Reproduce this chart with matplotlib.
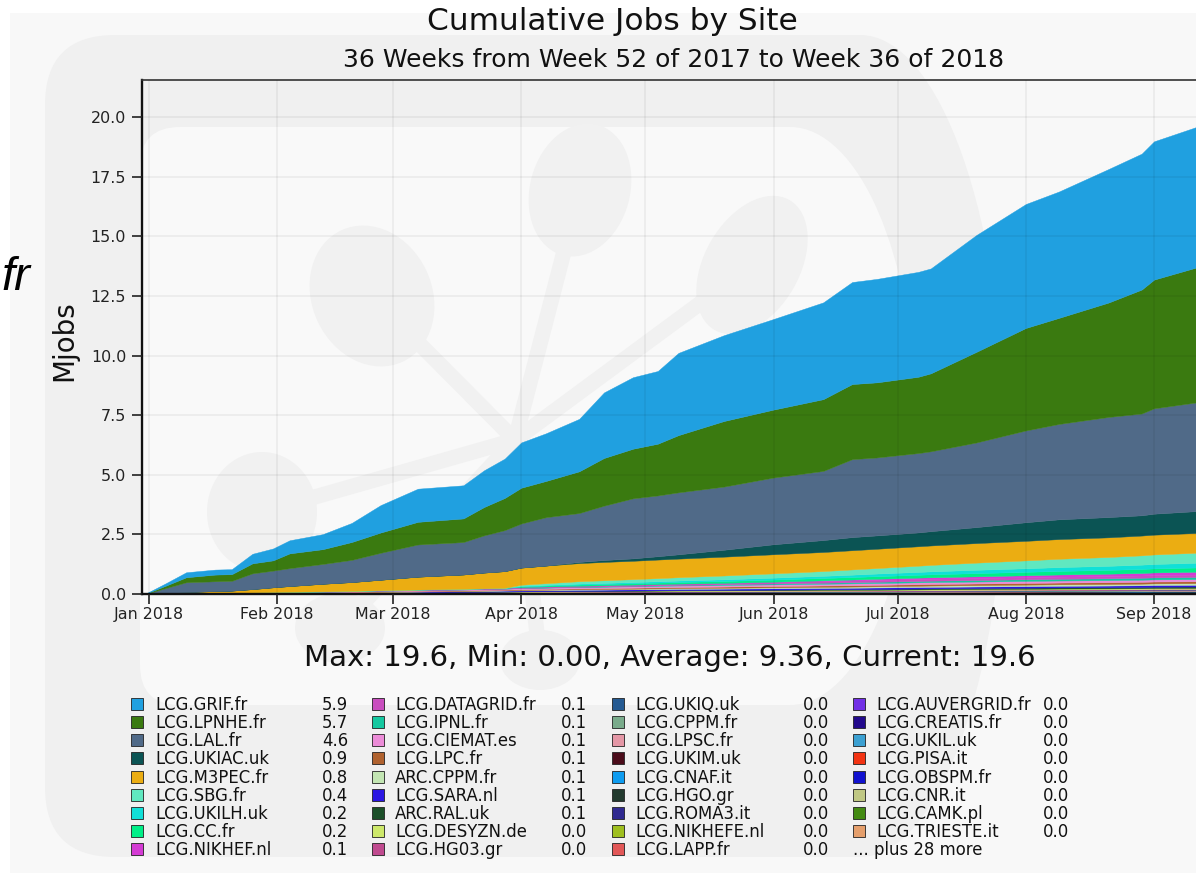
"""Cumulative jobs by site - stacked area with watermark and manual legend."""
import numpy as np
import pandas as pd
import matplotlib
matplotlib.use("Agg")
import matplotlib.pyplot as plt
import matplotlib.dates as mdates
from matplotlib.patches import Ellipse, Rectangle, PathPatch
from matplotlib.path import Path

W, H = 1196, 873

# ---- data (cumulative Mjobs per site at each knot date) ----
KNOT_DATES = ["2017-12-31", "2018-01-05", "2018-01-10", "2018-01-17", "2018-01-21", "2018-01-26",
              "2018-01-31", "2018-02-04", "2018-02-12", "2018-02-19", "2018-02-26", "2018-03-07",
              "2018-03-18", "2018-03-23", "2018-03-28", "2018-04-01", "2018-04-07", "2018-04-15",
              "2018-04-21", "2018-04-28", "2018-05-04", "2018-05-09", "2018-05-20", "2018-06-01",
              "2018-06-13", "2018-06-20", "2018-06-26", "2018-07-06", "2018-07-09", "2018-07-20",
              "2018-08-01", "2018-08-09", "2018-08-21", "2018-08-29", "2018-09-01", "2018-09-12"]

grif = [0, .10, .21, .21, .21, .40, .50, .55, .63, .80, 1.15, 1.39, 1.39, 1.54, 1.65, 1.9, 2.0, 2.2,
        2.75, 3.0, 3.05, 3.45, 3.6, 3.8, 4.06, 4.28, 4.34, 4.4, 4.4, 4.9, 5.2, 5.3, 5.6, 5.7, 5.8, 5.9]
lpnhe = [0, .10, .21, .28, .28, .42, .43, .62, .62, .75, .85, .95, .99, 1.19, 1.35, 1.5, 1.52, 1.75,
         2.0, 2.08, 2.17, 2.4, 2.75, 2.85, 3.01, 3.15, 3.15, 3.2, 3.27, 3.8, 4.3, 4.45, 4.8, 5.2, 5.4, 5.68]
lal = [0, .20, .41, .41, .41, .66, .70, .75, .83, .93, 1.13, 1.35, 1.36, 1.56, 1.72, 1.85, 2.03, 2.05,
       2.28, 2.52, 2.55, 2.6, 2.65, 2.8, 2.9, 3.27, 3.27, 3.33, 3.35, 3.55, 3.85, 4.0, 4.2, 4.27, 4.42, 4.57]
ukiac = [0, 0, 0, 0, 0, 0, 0, 0, 0, 0, 0, 0, 0, 0, 0, 0, 0, .05,
         .08, .10, .14, .18, .29, .42, .5, .55, .56, .58, .6, .67, .78, .83, .85, .85, .88, .92]
m3pec = [0, .03, .05, .08, .09, .14, .2, .24, .32, .37, .44, .54, .6, .66, .7, .72, .74, .76,
         .77, .77, .78, .78, .79, .8, .8, .805, .81, .815, .815, .82, .82, .825, .825, .83, .83, .83]
sbg = [0, 0, 0, 0, 0, 0, 0, 0, 0, 0, 0, 0, 0, 0, 0, .05, .07, .1,
       .11, .12, .13, .14, .16, .18, .2, .22, .23, .26, .27, .3, .33, .35, .37, .39, .4, .42]
ukilh = [0, 0, 0, 0, 0, 0, 0, 0, 0, 0, 0, 0, 0, 0, 0, .02, .03, .04,
         .045, .05, .055, .06, .07, .08, .09, .1, .11, .12, .125, .14, .15, .16, .17, .18, .185, .2]
cc = [0, 0, 0, 0, 0, 0, 0, 0, 0, 0, 0, 0, 0, 0, 0, .03, .04, .05,
      .055, .06, .065, .07, .08, .09, .1, .105, .11, .12, .125, .135, .145, .15, .16, .17, .17, .18]
nikhef = [0, 0, 0, 0, 0, 0, 0, 0, 0, 0, 0, 0, 0, 0, 0, 0, 0, 0,
          0, 0, 0, 0, 0, .01, .03, .04, .05, .06, .06, .07, .08, .09, .1, .105, .11, .12]
datagrid = [0, .002, .004, .006, .007, .009, .011, .012, .015, .018, .021, .025, .029, .031, .033, .036, .039, .043,
            .046, .05, .052, .054, .058, .064, .068, .071, .074, .079, .08, .083, .087, .089, .092, .095, .097, .1]
ipnl = [0, 0, 0, 0, 0, 0, 0, 0, 0, 0, 0, 0, 0, 0, 0, .005, .008, .012,
        .015, .019, .022, .025, .031, .038, .045, .049, .053, .058, .06, .065, .071, .074, .079, .083, .085, .09]
ciemat = [0, .003, .006, .008, .009, .012, .015, .017, .02, .024, .028, .033, .037, .04, .043, .047, .05, .054,
          .056, .059, .061, .063, .066, .069, .072, .074, .076, .079, .08, .082, .084, .085, .087, .088, .089, .09]
lpc = [0, .002, .004, .005, .006, .008, .01, .011, .013, .015, .018, .021, .024, .026, .028, .031, .034, .037,
       .039, .042, .044, .046, .05, .054, .057, .06, .062, .065, .066, .068, .071, .073, .075, .077, .078, .08]
arc_cppm = [0, 0, 0, 0, 0, 0, 0, 0, 0, 0, .003, .006, .009, .011, .013, .016, .019, .023,
            .025, .028, .03, .032, .036, .041, .045, .048, .05, .054, .055, .058, .061, .063, .065, .067, .068, .07]
sara = [0, .004, .008, .01, .011, .014, .017, .019, .022, .025, .029, .033, .036, .038, .04, .042, .044, .046,
        .047, .049, .05, .051, .053, .055, .057, .058, .059, .061, .062, .063, .065, .066, .067, .068, .069, .07]
arc_ral = [0, 0, 0, 0, 0, 0, 0, 0, 0, 0, 0, 0, 0, 0, 0, .003, .005, .008,
           .01, .013, .015, .017, .021, .025, .029, .032, .035, .039, .04, .044, .048, .05, .053, .056, .057, .06]
desyzn = [0, .001, .002, .003, .003, .004, .005, .006, .007, .009, .011, .013, .016, .018, .02, .021, .022, .024,
          .025, .026, .027, .028, .029, .031, .032, .033, .034, .035, .035, .036, .037, .038, .038, .039, .039, .04]
hg03 = [0, .001, .002, .003, .004, .005, .006, .007, .008, .01, .012, .014, .016, .018, .02, .021, .022, .023,
        .023, .024, .024, .025, .025, .026, .026, .027, .027, .028, .028, .028, .029, .029, .029, .03, .03, .03]
ukiq = [0, 0, .001, .001, .002, .002, .003, .003, .004, .005, .006, .007, .008, .009, .01, .011, .011, .012,
        .012, .013, .013, .014, .014, .015, .016, .016, .017, .017, .017, .018, .018, .019, .019, .019, .02, .02]
cppm = [0, 0, .001, .001, .001, .002, .002, .003, .003, .004, .005, .006, .007, .008, .008, .009, .01, .011,
        .011, .012, .012, .013, .014, .015, .015, .016, .016, .017, .017, .018, .018, .019, .019, .019, .02, .02]
lpsc = [0, .001, .001, .002, .002, .003, .003, .004, .005, .006, .007, .008, .01, .011, .012, .012, .013, .013,
        .014, .014, .015, .015, .016, .016, .017, .017, .017, .018, .018, .018, .019, .019, .019, .02, .02, .02]
ukim = [0, 0, 0, .001, .001, .001, .001, .002, .002, .002, .003, .003, .004, .004, .005, .005, .005, .006,
        .006, .006, .007, .007, .007, .008, .008, .008, .008, .009, .009, .009, .009, .01, .01, .01, .01, .01]
cnaf = [0, 0, 0, 0, 0, 0, 0, 0, 0, 0, 0, 0, 0, 0, 0, .001, .001, .002,
        .002, .003, .003, .004, .004, .005, .005, .006, .006, .007, .007, .008, .008, .009, .009, .01, .01, .01]
hgo = [0, 0, 0, 0, 0, 0, 0, 0, .001, .001, .002, .002, .003, .003, .004, .004, .004, .005,
       .005, .005, .006, .006, .006, .007, .007, .007, .008, .008, .008, .008, .009, .009, .009, .009, .01, .01]
roma3 = [0, .001, .001, .002, .002, .003, .003, .004, .004, .005, .006, .007, .008, .009, .01, .01, .011, .011,
         .011, .012, .012, .012, .013, .013, .013, .013, .014, .014, .014, .014, .014, .015, .015, .015, .015, .015]
nikhefe = [0, 0, 0, 0, 0, 0, 0, 0, 0, 0, 0, 0, 0, 0, 0, 0, 0, 0,
           0, 0, 0, 0, 0, 0, 0, 0, 0, .001, .002, .004, .005, .006, .007, .008, .009, .01]
lapp = [0, 0, 0, 0, 0, 0, 0, 0, 0, 0, 0, 0, 0, 0, 0, 0, 0, 0,
        0, 0, .001, .001, .002, .003, .004, .005, .005, .006, .006, .007, .008, .008, .009, .009, .01, .01]
auvergrid = [0, .001, .002, .002, .003, .003, .004, .005, .005, .006, .007, .008, .009, .01, .01, .011, .011, .012,
             .012, .012, .013, .013, .013, .013, .014, .014, .014, .014, .014, .015, .015, .015, .015, .015, .015, .015]
creatis = [0, 0, 0, 0, 0, 0, 0, 0, 0, 0, 0, 0, .001, .001, .001, .001, .001, .001,
           .002, .002, .002, .002, .002, .002, .003, .003, .003, .003, .004, .004, .004, .004, .005, .005, .005, .005]
ukil = [0, 0, 0, 0, 0, 0, 0, 0, 0, 0, 0, 0, 0, 0, 0, 0, .001, .001,
        .001, .001, .001, .002, .002, .002, .002, .002, .003, .003, .003, .003, .004, .004, .004, .005, .005, .005]
pisa = [0, 0, 0, 0, 0, 0, 0, 0, 0, 0, 0, 0, 0, 0, 0, 0, 0, 0,
        0, 0, .001, .001, .001, .001, .002, .002, .002, .002, .003, .003, .003, .004, .004, .004, .005, .005]
obspm = [0, 0, 0, 0, 0, 0, .001, .001, .001, .001, .001, .001, .002, .002, .002, .002, .002, .002,
         .003, .003, .003, .003, .003, .003, .004, .004, .004, .004, .004, .004, .005, .005, .005, .005, .005, .005]
cnr = [0, 0, 0, 0, 0, 0, 0, 0, 0, 0, 0, 0, 0, 0, 0, 0, 0, 0,
       0, 0, 0, 0, 0, 0, 0, 0, 0, .002, .003, .004, .005, .006, .007, .008, .009, .01]
camk = [0, 0, 0, 0, 0, 0, 0, 0, 0, 0, 0, 0, 0, 0, 0, 0, 0, 0,
        0, 0, 0, 0, 0, 0, 0, 0, 0, .002, .003, .004, .005, .006, .007, .008, .009, .01]
trieste = [0, 0, 0, 0, 0, 0, 0, 0, 0, 0, 0, 0, 0, 0, 0, 0, 0, 0,
           0, 0, 0, 0, 0, 0, .001, .001, .001, .002, .002, .002, .003, .003, .004, .004, .005, .005]

SITES = ["LCG.GRIF.fr", "LCG.LPNHE.fr", "LCG.LAL.fr", "LCG.UKIAC.uk", "LCG.M3PEC.fr", "LCG.SBG.fr",
         "LCG.UKILH.uk", "LCG.CC.fr", "LCG.NIKHEF.nl",
         "LCG.DATAGRID.fr", "LCG.IPNL.fr", "LCG.CIEMAT.es", "LCG.LPC.fr", "ARC.CPPM.fr", "LCG.SARA.nl",
         "ARC.RAL.uk", "LCG.DESYZN.de", "LCG.HG03.gr",
         "LCG.UKIQ.uk", "LCG.CPPM.fr", "LCG.LPSC.fr", "LCG.UKIM.uk", "LCG.CNAF.it", "LCG.HGO.gr",
         "LCG.ROMA3.it", "LCG.NIKHEFE.nl", "LCG.LAPP.fr",
         "LCG.AUVERGRID.fr", "LCG.CREATIS.fr", "LCG.UKIL.uk", "LCG.PISA.it", "LCG.OBSPM.fr", "LCG.CNR.it",
         "LCG.CAMK.pl", "LCG.TRIESTE.it"]
LEGEND_VALUES = ["5.9", "5.7", "4.6", "0.9", "0.8", "0.4", "0.2", "0.2", "0.1",
                 "0.1", "0.1", "0.1", "0.1", "0.1", "0.1", "0.1", "0.0", "0.0",
                 "0.0", "0.0", "0.0", "0.0", "0.0", "0.0", "0.0", "0.0", "0.0",
                 "0.0", "0.0", "0.0", "0.0", "0.0", "0.0", "0.0", "0.0"]
COLORS = ["#20a0e0", "#3a7a10", "#506a88", "#0b5454", "#ebad12", "#60e8c0", "#10e0d8", "#00ef88", "#d43bd4",
          "#c94ebf", "#14c8a0", "#ec8cd8", "#b0622f", "#c3e6b3", "#2b17e3", "#1b4f29", "#cde86a", "#c04a8f",
          "#255a92", "#79ab8b", "#e497a6", "#4b0c1a", "#0e9cf0", "#223a2e", "#302a90", "#9fbf1f", "#e25757",
          "#722fe6", "#22098c", "#3ba0d2", "#f23312", "#1111cf", "#c0c884", "#438b12", "#e59f6c"]
SERIES = [grif, lpnhe, lal, ukiac, m3pec, sbg, ukilh, cc, nikhef,
          datagrid, ipnl, ciemat, lpc, arc_cppm, sara, arc_ral, desyzn, hg03,
          ukiq, cppm, lpsc, ukim, cnaf, hgo, roma3, nikhefe, lapp,
          auvergrid, creatis, ukil, pisa, obspm, cnr, camk, trieste]
MORE_LABEL = "... plus 28 more"
STATS = "Max: 19.6, Min: 0.00, Average: 9.36, Current: 19.6"

fig = plt.figure(figsize=(W / 100, H / 100), dpi=100, facecolor="white")

# ---- background / watermark, drawn in pixel coordinates ----
bg = fig.add_axes([0, 0, 1, 1], zorder=0)
bg.set_xlim(0, W)
bg.set_ylim(H, 0)
bg.axis("off")
bg.add_patch(Rectangle((10, 13), W, H, facecolor="#f8f8f8", edgecolor="none"))


def d_path(x0, y0, y1, xs, xb, r):
    ym = (y0 + y1) / 2
    k = 0.55
    verts = [(x0 + r, y0), (xs, y0),
             (xs + k * (xb - xs), y0), (xb, ym - k * (ym - y0)), (xb, ym),
             (xb, ym + k * (y1 - ym)), (xs + k * (xb - xs), y1), (xs, y1),
             (x0 + r, y1), (x0, y1), (x0, y1 - r),
             (x0, y0 + r), (x0, y0), (x0 + r, y0), (x0 + r, y0)]
    codes = [Path.MOVETO, Path.LINETO,
             Path.CURVE4, Path.CURVE4, Path.CURVE4,
             Path.CURVE4, Path.CURVE4, Path.CURVE4,
             Path.LINETO, Path.CURVE3, Path.CURVE3,
             Path.LINETO, Path.CURVE3, Path.CURVE3, Path.CLOSEPOLY]
    return Path(verts, codes)


BAND = "#f0f0f0"
MOL = "#f1f1f1"
bg.add_patch(PathPatch(d_path(45, 35, 857, 860, 1005, 70), facecolor=BAND, edgecolor="none"))
bg.add_patch(PathPatch(d_path(140, 127, 705, 790, 915, 40), facecolor="#f9f9f9", edgecolor="none"))
hub = (515, 440)
for cx, cy in [(372, 296), (580, 190), (752, 265), (262, 512), (340, 628), (540, 660)]:
    bg.plot([cx, hub[0]], [cy, hub[1]], color=MOL, lw=11, solid_capstyle="round")
for (cx, cy), w, h, ang in [((372, 296), 120, 145, -25), ((580, 190), 100, 135, 15),
                            ((752, 265), 95, 150, 30), ((262, 512), 110, 120, 0),
                            ((340, 628), 90, 70, 0), ((540, 660), 80, 60, 0)]:
    bg.add_patch(Ellipse((cx, cy), w, h, angle=ang, facecolor=MOL, edgecolor="none"))

# partial text from a neighbouring slide
fig.text(1 / W, 1 - 290 / H, "fr", fontsize=34, style="italic", family="Liberation Sans",
         ha="left", va="baseline", color="black")

# ---- main plot ----
ax = fig.add_axes([142 / W, 1 - 594 / H, (1200 - 142) / W, (594 - 80) / H], facecolor="none", zorder=2)
dates = pd.to_datetime(KNOT_DATES)
ax.stackplot(dates, *[np.asarray(s) for s in SERIES[::-1]], colors=COLORS[::-1],
             edgecolor="face", linewidth=0.3)

ax.set_xlim(pd.Timestamp("2017-12-30 07:20"), pd.Timestamp("2018-09-12 02:20"))
ax.set_ylim(0, 19.6 * 1.1)
ax.set_yticks(np.arange(0, 20.01, 2.5))
ax.yaxis.set_major_formatter(plt.FormatStrFormatter("%.1f"))
ax.xaxis.set_major_locator(mdates.MonthLocator())
ax.xaxis.set_major_formatter(mdates.DateFormatter("%b %Y"))
ax.tick_params(axis="both", labelsize=11.4, colors="#222222", length=7, width=1.2)
ax.tick_params(axis="y", pad=4.5)
ax.tick_params(axis="x", pad=2.5)
ax.grid(True, color="black", alpha=0.055, lw=1.2)
ax.set_axisbelow(False)
ax.spines["right"].set_visible(False)
ax.spines["top"].set_linewidth(1.2)
ax.spines["top"].set_color("#333333")
for side in ("left", "bottom"):
    ax.spines[side].set_linewidth(1.7)
    ax.spines[side].set_color("#111111")

fig.text(64.5 / W, 1 - 341 / H, "Mjobs", rotation=90, fontsize=20, ha="center", va="center",
         color="#111111")
fig.text(612 / W, 1 - 30 / H, "Cumulative Jobs by Site", fontsize=22.5, ha="center", va="baseline",
         color="#111111")
fig.text(674 / W, 1 - 67 / H, "36 Weeks from Week 52 of 2017 to Week 36 of 2018", fontsize=18,
         ha="center", va="baseline", color="#111111")
fig.text(670 / W, 1 - 666 / H, STATS, fontsize=21, ha="center", va="baseline", color="#111111")

# ---- legend table ----
marker_x = [131, 372, 612, 853]
label_x = [155, 395, 635, 876]
value_x = [348, 587, 829, 1069]
for i, (name, val, col) in enumerate(zip(SITES, LEGEND_VALUES, COLORS)):
    c, r = divmod(i, 9)
    yc = 704 + 18.15 * r
    bg.add_patch(Rectangle((marker_x[c], yc - 6), 12, 12, facecolor=col, edgecolor="#222222", lw=0.6))
    bg.text(label_x[c], yc + 6, name, fontsize=11.9, ha="left", va="baseline", color="#111111")
    bg.text(value_x[c], yc + 6, val, fontsize=11.9, ha="right", va="baseline", color="#111111")
bg.text(853, 704 + 18.15 * 8 + 6, MORE_LABEL, fontsize=11.9, ha="left", va="baseline", color="#111111")

fig.savefig("out.png", dpi=100, facecolor=fig.get_facecolor())
